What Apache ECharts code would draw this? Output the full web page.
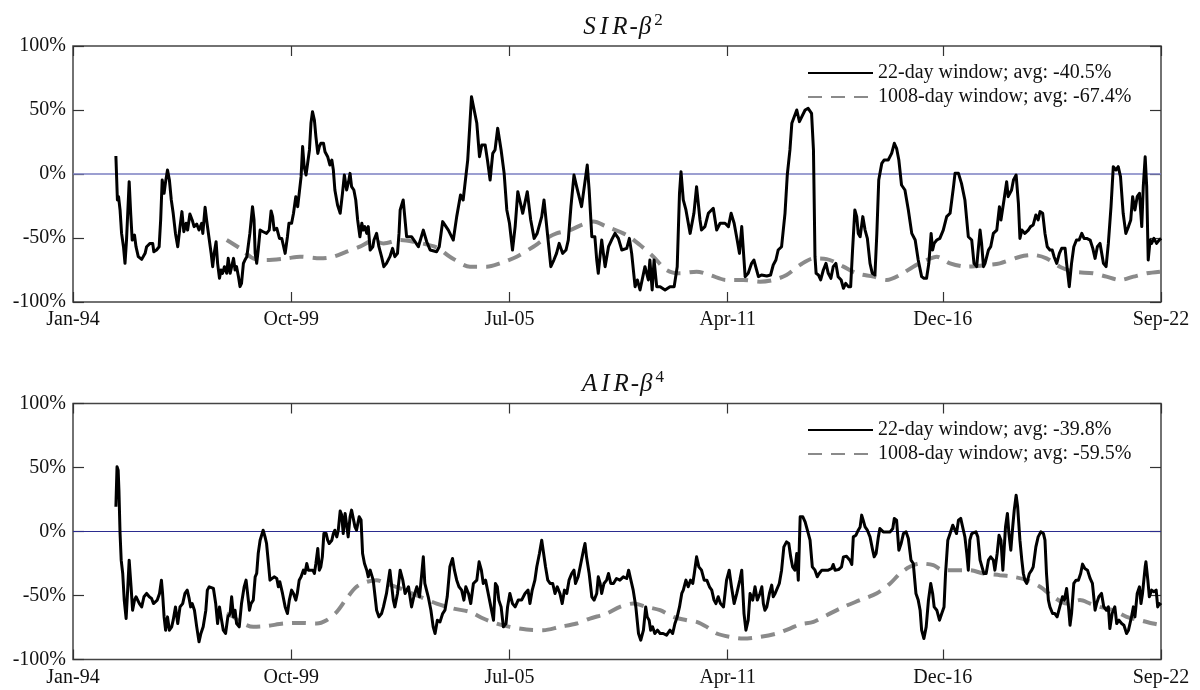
<!DOCTYPE html>
<html>
<head>
<meta charset="utf-8">
<script src="https://cdn.jsdelivr.net/npm/echarts@6/dist/echarts.min.js"></script>
<style>
html,body{margin:0;padding:0;background:#fff;}
#chart{width:1200px;height:690px;}
</style>
</head>
<body>
<div id="chart"></div>
<script>
// ---- data (x: decimal year, y: percent) ----
const tickDates = [1994, 1999.75, 2005.5, 2011.25, 2016.917, 2022.667];
const tickLabels = ['Jan-94', 'Oct-99', 'Jul-05', 'Apr-11', 'Dec-16', 'Sep-22'];
const yTicks = [-100, -50, 0, 50, 100];

const titleTop = {main1: 'SIR', sep: '-', main2: 'β', sup: '2'};
const titleBottom = {main1: 'AIR', sep: '-', main2: 'β', sup: '4'};

const sirNames = ['22-day window; avg: -40.5%', '1008-day window; avg: -67.4%'];
const airNames = ['22-day window; avg: -39.8%', '1008-day window; avg: -59.5%'];

const sir22 = [
[1995.13,14.1],[1995.17,-20.3],[1995.20,-17.7],[1995.24,-28.1],[1995.28,-46.4],[1995.33,-56.8],[1995.37,-69.8],[1995.41,-51.6],[1995.48,-6.0],[1995.52,-30.7],[1995.56,-51.6],[1995.62,-47.7],[1995.66,-56.8],[1995.72,-64.6],[1995.81,-66.7],[1995.90,-62.0],[1995.94,-56.8],[1996.03,-54.2],[1996.10,-54.2],[1996.13,-60.7],[1996.20,-59.4],[1996.27,-56.8],[1996.31,-35.9],[1996.35,-4.7],[1996.40,-15.1],[1996.44,-6.0],[1996.49,3.1],[1996.54,-4.7],[1996.59,-20.3],[1996.64,-30.7],[1996.70,-46.4],[1996.76,-56.8],[1996.82,-41.1],[1996.87,-29.4],[1996.92,-45.1],[1996.98,-38.5],[1997.02,-43.8],[1997.08,-31.3],[1997.14,-35.9],[1997.19,-41.1],[1997.26,-39.1],[1997.32,-43.8],[1997.39,-38.5],[1997.42,-46.4],[1997.48,-26.0],[1997.52,-35.9],[1997.58,-49.0],[1997.64,-62.0],[1997.68,-72.4],[1997.72,-62.0],[1997.77,-52.9],[1997.81,-69.8],[1997.86,-81.5],[1997.90,-75.0],[1997.94,-77.6],[1997.99,-72.4],[1998.05,-77.6],[1998.09,-65.9],[1998.14,-77.6],[1998.18,-72.4],[1998.23,-65.9],[1998.27,-75.0],[1998.31,-72.4],[1998.36,-80.2],[1998.40,-88.0],[1998.44,-85.4],[1998.49,-69.8],[1998.53,-67.2],[1998.58,-64.6],[1998.62,-65.9],[1998.66,-46.4],[1998.73,-25.5],[1998.77,-35.9],[1998.80,-62.0],[1998.84,-69.8],[1998.88,-59.4],[1998.93,-43.8],[1999.01,-45.1],[1999.10,-46.4],[1999.17,-43.8],[1999.22,-28.9],[1999.26,-33.3],[1999.30,-43.8],[1999.37,-42.4],[1999.44,-50.3],[1999.50,-50.3],[1999.54,-55.5],[1999.59,-62.0],[1999.65,-49.0],[1999.69,-38.5],[1999.76,-38.5],[1999.81,-30.7],[1999.87,-17.7],[1999.92,-25.5],[1999.96,-15.1],[2000.01,-2.1],[2000.05,21.4],[2000.09,5.7],[2000.14,-0.8],[2000.18,0.5],[2000.23,18.8],[2000.27,39.6],[2000.31,48.7],[2000.36,42.2],[2000.40,29.2],[2000.45,16.1],[2000.49,21.4],[2000.53,24.0],[2000.60,24.0],[2000.64,17.4],[2000.71,13.5],[2000.77,7.0],[2000.82,10.9],[2000.86,3.1],[2000.90,-12.5],[2000.97,-24.2],[2001.04,-30.7],[2001.10,-15.1],[2001.15,-0.8],[2001.21,-12.5],[2001.26,-6.0],[2001.30,0.5],[2001.34,-9.9],[2001.40,-12.5],[2001.45,-20.3],[2001.50,-35.9],[2001.56,-49.0],[2001.61,-38.5],[2001.65,-43.8],[2001.69,-41.1],[2001.74,-46.4],[2001.78,-41.1],[2001.83,-59.4],[2001.90,-56.8],[2001.93,-51.6],[2002.00,-46.4],[2002.06,-56.8],[2002.13,-64.6],[2002.19,-72.4],[2002.26,-69.8],[2002.35,-64.6],[2002.42,-58.1],[2002.48,-64.6],[2002.55,-62.0],[2002.59,-46.4],[2002.62,-28.1],[2002.70,-20.3],[2002.79,-49.0],[2002.92,-49.0],[2003.10,-56.8],[2003.23,-43.8],[2003.32,-52.9],[2003.41,-59.4],[2003.58,-60.7],[2003.65,-56.8],[2003.74,-37.2],[2003.89,-43.8],[2004.02,-51.6],[2004.11,-33.3],[2004.21,-16.4],[2004.28,-20.3],[2004.40,10.9],[2004.50,60.4],[2004.57,50.0],[2004.64,39.6],[2004.71,13.5],[2004.77,22.7],[2004.86,22.7],[2004.92,10.9],[2004.99,-4.7],[2005.06,16.1],[2005.12,18.8],[2005.19,35.7],[2005.28,18.8],[2005.36,0.5],[2005.43,-28.1],[2005.50,-38.5],[2005.58,-59.4],[2005.65,-41.1],[2005.72,-13.8],[2005.85,-30.7],[2005.97,-13.8],[2006.06,-35.9],[2006.15,-50.3],[2006.23,-46.4],[2006.35,-33.3],[2006.41,-20.3],[2006.59,-72.4],[2006.67,-67.2],[2006.74,-62.0],[2006.81,-54.2],[2006.90,-62.0],[2006.99,-59.4],[2007.05,-51.6],[2007.12,-25.5],[2007.20,-0.8],[2007.27,-9.9],[2007.40,-25.5],[2007.55,7.0],[2007.60,-12.5],[2007.67,-49.0],[2007.75,-49.0],[2007.80,-67.2],[2007.84,-77.6],[2007.93,-51.6],[2008.02,-72.4],[2008.11,-56.8],[2008.19,-51.6],[2008.28,-46.4],[2008.37,-50.3],[2008.46,-59.4],[2008.59,-58.1],[2008.66,-50.3],[2008.72,-62.0],[2008.81,-88.0],[2008.87,-82.8],[2008.94,-90.6],[2009.07,-72.4],[2009.16,-82.8],[2009.20,-67.2],[2009.26,-90.6],[2009.31,-67.2],[2009.38,-88.0],[2009.47,-88.0],[2009.60,-90.6],[2009.73,-88.0],[2009.84,-88.0],[2009.92,-72.4],[2009.98,-15.1],[2010.02,1.8],[2010.08,-20.3],[2010.15,-28.1],[2010.26,-46.4],[2010.36,-30.7],[2010.43,-9.9],[2010.52,-35.9],[2010.56,-43.8],[2010.65,-41.1],[2010.74,-30.7],[2010.87,-26.8],[2010.96,-43.8],[2011.05,-38.5],[2011.18,-38.5],[2011.27,-41.1],[2011.34,-30.7],[2011.42,-38.5],[2011.50,-51.6],[2011.56,-62.0],[2011.62,-41.1],[2011.71,-80.2],[2011.79,-77.6],[2011.88,-69.8],[2011.94,-67.2],[2012.06,-80.2],[2012.14,-78.9],[2012.28,-79.7],[2012.38,-78.9],[2012.45,-71.1],[2012.52,-67.2],[2012.58,-59.4],[2012.67,-56.8],[2012.76,-30.7],[2012.82,-0.8],[2012.89,18.8],[2012.94,39.6],[2012.98,40.9],[2013.07,50.0],[2013.14,40.9],[2013.29,50.0],[2013.37,51.3],[2013.46,47.4],[2013.51,18.8],[2013.55,-64.6],[2013.58,-77.6],[2013.64,-78.9],[2013.70,-82.8],[2013.77,-75.0],[2013.84,-69.8],[2013.90,-77.6],[2013.97,-81.5],[2014.03,-72.4],[2014.10,-69.8],[2014.16,-80.2],[2014.24,-82.8],[2014.30,-89.3],[2014.36,-85.4],[2014.43,-88.0],[2014.49,-88.0],[2014.54,-59.4],[2014.60,-28.1],[2014.65,-33.3],[2014.69,-46.4],[2014.74,-49.0],[2014.81,-33.3],[2014.87,-43.8],[2014.93,-50.3],[2015.00,-69.8],[2015.06,-77.6],[2015.13,-78.9],[2015.18,-46.4],[2015.23,-4.7],[2015.31,8.3],[2015.37,10.9],[2015.48,10.9],[2015.57,16.1],[2015.64,24.0],[2015.70,20.1],[2015.76,10.9],[2015.83,-8.6],[2015.92,-12.5],[2016.01,-28.1],[2016.10,-46.4],[2016.14,-46.4],[2016.19,-51.6],[2016.27,-67.2],[2016.36,-80.2],[2016.42,-81.5],[2016.49,-81.5],[2016.55,-69.8],[2016.61,-46.4],[2016.65,-59.4],[2016.69,-54.2],[2016.76,-51.6],[2016.84,-50.3],[2016.93,-43.8],[2017.02,-33.3],[2017.11,-30.7],[2017.20,-9.9],[2017.24,0.5],[2017.33,0.5],[2017.41,-7.3],[2017.50,-20.3],[2017.59,-49.0],[2017.68,-51.6],[2017.74,-69.8],[2017.81,-72.4],[2017.90,-43.8],[2017.94,-54.2],[2017.99,-72.4],[2018.03,-69.8],[2018.12,-59.4],[2018.18,-56.8],[2018.25,-46.4],[2018.34,-43.8],[2018.41,-25.5],[2018.45,-35.9],[2018.53,-20.3],[2018.60,-6.0],[2018.64,-17.7],[2018.73,-12.5],[2018.78,-4.7],[2018.85,-0.8],[2018.91,-23.0],[2018.95,-50.3],[2019.00,-43.8],[2019.08,-46.4],[2019.17,-43.8],[2019.23,-41.1],[2019.30,-39.8],[2019.37,-32.0],[2019.43,-35.9],[2019.48,-29.4],[2019.55,-30.7],[2019.61,-46.4],[2019.67,-56.8],[2019.74,-59.4],[2019.80,-59.4],[2019.85,-64.6],[2019.92,-69.8],[2019.99,-62.0],[2020.05,-58.1],[2020.14,-58.1],[2020.18,-69.8],[2020.25,-88.0],[2020.31,-69.8],[2020.37,-56.8],[2020.44,-51.6],[2020.51,-51.6],[2020.58,-46.4],[2020.64,-50.3],[2020.71,-50.3],[2020.80,-51.6],[2020.87,-58.1],[2020.93,-65.9],[2020.99,-56.8],[2021.06,-54.2],[2021.15,-69.8],[2021.22,-72.4],[2021.28,-54.2],[2021.35,-25.5],[2021.41,5.7],[2021.48,3.1],[2021.54,5.7],[2021.60,-2.1],[2021.67,-30.7],[2021.74,-46.4],[2021.81,-41.1],[2021.87,-35.9],[2021.92,-17.7],[2021.98,-28.1],[2022.04,-17.7],[2022.10,-15.1],[2022.16,-41.1],[2022.20,-9.9],[2022.25,13.5],[2022.29,-9.9],[2022.33,-67.2],[2022.38,-51.6],[2022.42,-54.2],[2022.48,-50.3],[2022.55,-54.2],[2022.62,-51.6],[2022.67,-50.3]
];

const sir1008 = [
[1998.05,-51.6],[1998.40,-58.1],[1998.75,-65.9],[1999.10,-67.2],[1999.63,-65.9],[1999.98,-64.6],[2000.51,-65.9],[2000.86,-64.6],[2001.21,-60.7],[2001.56,-56.8],[2001.91,-52.1],[2002.18,-54.2],[2002.62,-51.6],[2002.97,-52.9],[2003.58,-57.3],[2003.93,-64.6],[2004.46,-72.4],[2004.90,-72.4],[2005.25,-69.8],[2005.69,-64.6],[2006.13,-56.8],[2006.39,-51.6],[2006.74,-46.4],[2007.10,-43.8],[2007.40,-39.8],[2007.71,-37.2],[2008.06,-41.1],[2008.59,-47.7],[2008.94,-55.5],[2009.29,-64.6],[2009.64,-75.0],[2009.99,-77.6],[2010.43,-76.3],[2010.78,-78.9],[2011.22,-82.8],[2011.66,-82.8],[2012.10,-84.1],[2012.45,-82.8],[2012.80,-78.9],[2013.16,-71.0],[2013.51,-66.0],[2013.86,-66.5],[2014.30,-72.4],[2014.65,-77.6],[2015.09,-80.2],[2015.44,-82.8],[2015.79,-78.9],[2016.14,-72.4],[2016.49,-67.2],[2016.76,-64.6],[2017.11,-69.8],[2017.55,-72.4],[2018.07,-71.1],[2018.42,-69.8],[2018.95,-64.6],[2019.30,-63.3],[2019.65,-65.9],[2020.00,-72.4],[2020.36,-76.3],[2020.88,-77.6],[2021.23,-80.2],[2021.59,-82.8],[2021.94,-80.2],[2022.29,-77.6],[2022.64,-76.3]
];

const air22 = [
[1995.13,19.3],[1995.16,50.5],[1995.19,47.9],[1995.21,32.3],[1995.24,-1.6],[1995.27,-22.4],[1995.31,-32.8],[1995.35,-53.6],[1995.40,-68.0],[1995.44,-45.8],[1995.48,-22.4],[1995.53,-43.2],[1995.57,-61.5],[1995.62,-53.6],[1995.66,-51.0],[1995.70,-51.0],[1995.75,-56.3],[1995.81,-58.9],[1995.87,-51.0],[1995.94,-48.4],[1996.01,-51.0],[1996.07,-52.3],[1996.12,-56.3],[1996.16,-56.3],[1996.22,-53.6],[1996.28,-48.4],[1996.33,-38.0],[1996.36,-48.4],[1996.40,-66.7],[1996.44,-77.1],[1996.49,-66.7],[1996.54,-77.1],[1996.60,-74.5],[1996.64,-69.3],[1996.70,-58.9],[1996.76,-71.9],[1996.82,-58.9],[1996.89,-56.3],[1996.95,-48.4],[1997.01,-45.8],[1997.06,-52.3],[1997.10,-58.9],[1997.14,-56.3],[1997.20,-61.5],[1997.26,-74.5],[1997.32,-86.2],[1997.37,-79.7],[1997.43,-74.5],[1997.50,-61.5],[1997.54,-45.8],[1997.59,-43.2],[1997.70,-44.5],[1997.76,-56.3],[1997.81,-71.9],[1997.86,-58.9],[1997.90,-66.7],[1997.96,-77.1],[1998.02,-79.7],[1998.08,-66.7],[1998.14,-64.1],[1998.18,-51.0],[1998.23,-66.7],[1998.27,-61.5],[1998.31,-71.9],[1998.38,-74.5],[1998.44,-56.3],[1998.51,-43.2],[1998.56,-38.0],[1998.60,-48.4],[1998.65,-61.5],[1998.69,-56.3],[1998.75,-53.6],[1998.80,-35.4],[1998.84,-32.8],[1998.88,-17.2],[1998.93,-6.8],[1998.97,-2.9],[1999.01,1.0],[1999.06,-4.2],[1999.10,-9.4],[1999.15,-25.0],[1999.19,-38.0],[1999.24,-39.3],[1999.30,-35.4],[1999.37,-36.7],[1999.41,-43.2],[1999.45,-39.3],[1999.52,-48.4],[1999.59,-58.9],[1999.65,-64.1],[1999.70,-53.6],[1999.76,-45.8],[1999.81,-48.4],[1999.87,-53.6],[1999.91,-48.4],[1999.96,-38.0],[2000.01,-35.4],[2000.07,-30.2],[2000.11,-32.8],[2000.16,-25.0],[2000.20,-30.2],[2000.26,-30.2],[2000.32,-30.2],[2000.36,-32.8],[2000.40,-25.0],[2000.45,-13.3],[2000.49,-30.2],[2000.53,-27.6],[2000.57,-19.8],[2000.61,-1.6],[2000.67,-1.6],[2000.71,-6.8],[2000.75,-9.4],[2000.82,-6.8],[2000.86,-1.6],[2000.90,1.0],[2000.95,-4.2],[2000.99,1.0],[2001.04,16.1],[2001.08,12.8],[2001.12,-1.6],[2001.17,14.1],[2001.21,14.1],[2001.25,-4.2],[2001.30,11.5],[2001.34,16.7],[2001.39,18.0],[2001.43,3.6],[2001.47,1.0],[2001.54,11.5],[2001.59,8.9],[2001.63,-17.2],[2001.68,-25.0],[2001.74,-30.2],[2001.78,-35.4],[2001.83,-30.2],[2001.87,-30.2],[2001.91,-38.0],[2001.96,-51.0],[2002.00,-61.5],[2002.06,-66.7],[2002.13,-64.1],[2002.18,-58.9],[2002.26,-48.4],[2002.31,-48.4],[2002.35,-30.2],[2002.40,-30.2],[2002.44,-53.6],[2002.48,-58.9],[2002.55,-48.4],[2002.62,-30.2],[2002.69,-38.0],[2002.75,-48.4],[2002.84,-43.2],[2002.92,-58.9],[2002.98,-51.0],[2003.06,-43.2],[2003.13,-51.0],[2003.19,-32.8],[2003.23,-19.8],[2003.27,-40.6],[2003.36,-51.0],[2003.43,-61.5],[2003.49,-74.5],[2003.54,-79.7],[2003.60,-69.3],[2003.67,-70.6],[2003.74,-64.1],[2003.80,-61.5],[2003.86,-51.0],[2003.93,-27.6],[2004.00,-21.1],[2004.05,-30.2],[2004.11,-38.0],[2004.17,-43.2],[2004.24,-45.8],[2004.30,-53.6],[2004.35,-43.2],[2004.42,-48.4],[2004.48,-56.3],[2004.55,-40.6],[2004.64,-38.0],[2004.70,-23.7],[2004.76,-30.2],[2004.81,-40.6],[2004.87,-38.0],[2004.94,-48.4],[2005.01,-58.9],[2005.08,-69.3],[2005.13,-40.6],[2005.18,-43.2],[2005.22,-53.6],[2005.28,-58.9],[2005.34,-74.5],[2005.41,-71.9],[2005.45,-58.9],[2005.51,-48.4],[2005.58,-56.3],[2005.65,-58.9],[2005.73,-53.6],[2005.82,-53.6],[2005.91,-48.4],[2005.99,-45.8],[2006.04,-56.3],[2006.10,-45.8],[2006.17,-38.0],[2006.22,-27.6],[2006.29,-17.2],[2006.35,-6.8],[2006.39,-6.8],[2006.45,-27.6],[2006.51,-38.0],[2006.57,-40.6],[2006.64,-40.6],[2006.70,-48.4],[2006.76,-43.2],[2006.83,-48.4],[2006.89,-56.3],[2006.95,-45.8],[2007.01,-48.4],[2007.07,-38.0],[2007.14,-32.8],[2007.20,-30.2],[2007.24,-40.6],[2007.31,-35.4],[2007.38,-25.0],[2007.45,-14.6],[2007.49,-9.4],[2007.53,-19.8],[2007.60,-32.8],[2007.67,-51.0],[2007.73,-53.6],[2007.80,-48.4],[2007.84,-35.4],[2007.89,-40.6],[2007.93,-48.4],[2007.99,-40.6],[2008.06,-38.0],[2008.11,-32.8],[2008.17,-40.6],[2008.24,-40.6],[2008.32,-36.7],[2008.41,-38.0],[2008.50,-35.4],[2008.59,-36.7],[2008.64,-30.2],[2008.69,-36.7],[2008.76,-45.8],[2008.83,-58.9],[2008.90,-79.7],[2008.96,-84.9],[2009.03,-77.1],[2009.09,-58.9],[2009.13,-66.7],[2009.18,-69.3],[2009.22,-77.1],[2009.27,-74.5],[2009.33,-79.7],[2009.40,-77.1],[2009.47,-79.7],[2009.55,-79.7],[2009.64,-81.0],[2009.73,-77.1],[2009.80,-79.7],[2009.86,-71.9],[2009.92,-66.7],[2009.98,-58.9],[2010.04,-48.4],[2010.08,-45.8],[2010.15,-38.0],[2010.21,-43.2],[2010.27,-38.0],[2010.33,-40.6],[2010.37,-32.8],[2010.43,-19.8],[2010.49,-27.6],[2010.56,-30.2],[2010.63,-38.0],[2010.70,-38.0],[2010.77,-43.2],[2010.83,-45.8],[2010.89,-53.6],[2010.94,-56.3],[2011.00,-51.0],[2011.06,-56.3],[2011.14,-58.9],[2011.22,-38.0],[2011.29,-30.2],[2011.35,-43.2],[2011.42,-56.3],[2011.49,-48.4],[2011.57,-38.0],[2011.62,-30.2],[2011.68,-64.1],[2011.73,-77.1],[2011.79,-69.3],[2011.84,-48.4],[2011.91,-53.6],[2011.97,-43.2],[2012.03,-53.6],[2012.10,-48.4],[2012.15,-43.2],[2012.19,-56.3],[2012.23,-61.5],[2012.28,-58.9],[2012.35,-48.4],[2012.41,-41.9],[2012.45,-51.0],[2012.50,-48.4],[2012.54,-48.4],[2012.61,-40.6],[2012.67,-30.2],[2012.73,-12.0],[2012.80,-8.1],[2012.86,-9.4],[2012.91,-19.8],[2012.96,-27.6],[2013.02,-30.2],[2013.07,-17.2],[2013.11,-38.0],[2013.16,11.5],[2013.23,11.5],[2013.29,7.6],[2013.35,1.0],[2013.42,-6.8],[2013.48,-27.6],[2013.55,-30.2],[2013.61,-35.4],[2013.66,-32.8],[2013.73,-30.2],[2013.81,-30.2],[2013.90,-30.2],[2013.99,-28.9],[2014.03,-25.8],[2014.08,-30.2],[2014.17,-29.7],[2014.25,-27.6],[2014.30,-19.8],[2014.38,-19.3],[2014.47,-22.4],[2014.52,-25.8],[2014.56,-4.2],[2014.63,-2.9],[2014.69,1.0],[2014.74,3.6],[2014.78,12.8],[2014.82,8.9],[2014.87,3.6],[2014.93,1.0],[2015.00,-4.2],[2015.07,-14.6],[2015.11,-19.8],[2015.16,-17.2],[2015.22,-4.2],[2015.26,2.3],[2015.35,-0.3],[2015.44,-0.3],[2015.53,-0.3],[2015.60,2.3],[2015.64,10.2],[2015.70,8.9],[2015.76,-14.6],[2015.82,-9.4],[2015.88,-1.6],[2015.95,-0.3],[2016.01,-5.5],[2016.08,-22.4],[2016.14,-25.0],[2016.21,-48.4],[2016.27,-53.6],[2016.32,-61.5],[2016.36,-77.1],[2016.42,-83.6],[2016.48,-74.5],[2016.54,-53.6],[2016.60,-40.6],[2016.65,-48.4],[2016.69,-58.9],[2016.76,-61.5],[2016.83,-69.3],[2016.89,-64.1],[2016.95,-58.9],[2016.99,-32.8],[2017.05,-6.8],[2017.11,-1.6],[2017.18,4.9],[2017.22,3.6],[2017.28,-1.6],[2017.33,8.9],[2017.39,10.2],[2017.46,1.0],[2017.50,-4.2],[2017.55,-17.2],[2017.59,-30.2],[2017.63,-6.8],[2017.68,-1.6],[2017.72,-0.3],[2017.79,-0.3],[2017.84,-4.2],[2017.90,-22.4],[2017.94,-22.4],[2018.00,-32.8],[2018.06,-32.8],[2018.12,-22.4],[2018.18,-19.8],[2018.25,-22.4],[2018.29,-30.2],[2018.35,-17.2],[2018.40,-2.9],[2018.45,-6.8],[2018.50,-30.2],[2018.53,-30.2],[2018.57,3.6],[2018.62,14.1],[2018.66,-1.6],[2018.71,-14.6],[2018.76,3.6],[2018.80,16.7],[2018.85,28.4],[2018.89,19.3],[2018.95,-6.8],[2019.00,-22.4],[2019.04,-32.8],[2019.08,-38.0],[2019.13,-40.6],[2019.20,-32.8],[2019.26,-30.2],[2019.30,-27.6],[2019.37,-12.0],[2019.43,-4.2],[2019.50,-0.3],[2019.57,-1.6],[2019.61,-6.8],[2019.65,-32.8],[2019.70,-53.6],[2019.74,-58.9],[2019.81,-64.1],[2019.87,-64.1],[2019.93,-66.7],[2020.00,-58.9],[2020.07,-51.0],[2020.12,-53.6],[2020.18,-44.5],[2020.23,-58.9],[2020.27,-73.2],[2020.31,-64.1],[2020.37,-40.6],[2020.43,-38.0],[2020.49,-38.0],[2020.55,-32.8],[2020.60,-25.5],[2020.66,-28.9],[2020.73,-30.2],[2020.80,-36.7],[2020.86,-40.6],[2020.93,-61.5],[2020.97,-56.3],[2021.03,-51.0],[2021.10,-48.4],[2021.16,-58.9],[2021.23,-61.5],[2021.28,-58.9],[2021.32,-75.8],[2021.38,-64.1],[2021.45,-58.9],[2021.50,-71.9],[2021.56,-69.3],[2021.63,-71.9],[2021.69,-73.2],[2021.76,-79.7],[2021.81,-77.1],[2021.85,-71.9],[2021.89,-66.7],[2021.94,-58.9],[2021.98,-66.7],[2022.04,-48.4],[2022.10,-43.2],[2022.14,-56.3],[2022.18,-48.4],[2022.25,-27.6],[2022.27,-23.7],[2022.32,-38.0],[2022.36,-51.0],[2022.42,-45.8],[2022.48,-47.1],[2022.54,-45.8],[2022.58,-58.9],[2022.62,-56.3],[2022.67,-57.6]
];

const air1008 = [
[1998.05,-64.1],[1998.23,-66.7],[1998.40,-70.6],[1998.75,-74.5],[1999.10,-73.9],[1999.54,-71.9],[1999.98,-71.4],[2000.42,-71.9],[2000.68,-69.3],[2000.95,-62.8],[2001.21,-52.3],[2001.47,-43.2],[2001.74,-39.3],[2002.00,-38.0],[2002.26,-40.6],[2002.62,-44.5],[2003.14,-51.0],[2003.58,-56.3],[2004.02,-60.2],[2004.46,-62.8],[2004.81,-68.0],[2005.16,-71.9],[2005.51,-74.5],[2005.95,-76.6],[2006.39,-77.1],[2006.83,-74.5],[2007.27,-71.9],[2007.62,-68.0],[2008.06,-64.1],[2008.41,-58.9],[2008.76,-56.3],[2009.11,-58.9],[2009.47,-61.5],[2009.82,-66.7],[2010.17,-69.3],[2010.43,-70.6],[2010.70,-74.5],[2010.96,-79.7],[2011.31,-82.3],[2011.66,-83.6],[2012.10,-82.3],[2012.54,-79.7],[2012.89,-75.8],[2013.16,-72.5],[2013.51,-70.6],[2013.86,-65.4],[2014.30,-58.9],[2014.74,-53.6],[2015.17,-48.4],[2015.53,-40.6],[2015.79,-32.8],[2016.05,-27.6],[2016.32,-25.0],[2016.67,-26.3],[2016.93,-30.2],[2017.28,-30.2],[2017.63,-30.2],[2017.99,-32.8],[2018.42,-34.1],[2018.78,-35.4],[2019.13,-38.0],[2019.48,-43.2],[2019.83,-51.0],[2020.18,-56.3],[2020.53,-53.6],[2020.80,-56.3],[2021.06,-58.9],[2021.41,-61.5],[2021.76,-66.7],[2022.11,-69.3],[2022.46,-71.9],[2022.67,-73.2]
];

// ---- styling helpers ----
const SERIF = 'Liberation Serif';
const xMin = tickDates[0], xMax = tickDates[tickDates.length - 1];
const grids = [
  {left: 73, width: 1088, top: 46, height: 256},
  {left: 73, width: 1088, top: 403.5, height: 256}
];
const zeroColors = ['#7b7fc2', '#2b2c8f'];
const zeroWidths = [1.6, 1.0];

function fmtX(v) {
  for (let i = 0; i < tickDates.length; i++) {
    if (Math.abs(tickDates[i] - v) < 0.02) return tickLabels[i];
  }
  return '';
}

const tickStyle = {color: '#333', width: 1.2};
const xAxes = [], yAxes = [];
grids.forEach((g, gi) => {
  xAxes.push({
    type: 'value', gridIndex: gi, min: xMin, max: xMax, position: 'bottom',
    axisLine: {show: false, onZero: false},
    splitLine: {show: false},
    axisTick: {show: true, inside: true, length: 10, customValues: tickDates, lineStyle: tickStyle},
    axisLabel: {show: true, customValues: tickDates, formatter: fmtX, margin: 8,
      fontFamily: SERIF, fontSize: 20, color: '#111'}
  });
  xAxes.push({
    type: 'value', gridIndex: gi, min: xMin, max: xMax, position: 'top',
    axisLine: {show: false, onZero: false}, splitLine: {show: false},
    axisTick: {show: true, inside: true, length: 10, customValues: tickDates, lineStyle: tickStyle},
    axisLabel: {show: false}
  });
  yAxes.push({
    type: 'value', gridIndex: gi, min: -100, max: 100, interval: 50, position: 'left',
    axisLine: {show: false, onZero: false}, splitLine: {show: false},
    axisTick: {show: true, inside: true, length: 11, lineStyle: tickStyle},
    axisLabel: {show: true, margin: 7, formatter: '{value}%', fontFamily: SERIF, fontSize: 20, color: '#111'}
  });
  yAxes.push({
    type: 'value', gridIndex: gi, min: -100, max: 100, interval: 50, position: 'right',
    axisLine: {show: false, onZero: false}, splitLine: {show: false},
    axisTick: {show: true, inside: true, length: 11, lineStyle: tickStyle},
    axisLabel: {show: false}
  });
});

function zeroSeries(gi) {
  return {
    type: 'line', name: 'zero' + gi, xAxisIndex: gi * 2, yAxisIndex: gi * 2,
    data: [[xMin, 0], [xMax, 0]], symbol: 'none', silent: true, z: 1,
    lineStyle: {color: zeroColors[gi], width: zeroWidths[gi]}, itemStyle: {color: zeroColors[gi]}
  };
}
function shortSeries(gi, name, data) {
  return {
    type: 'line', name: name, xAxisIndex: gi * 2, yAxisIndex: gi * 2, data: data,
    symbol: 'none', showSymbol: false, z: 3,
    lineStyle: {color: '#000', width: 3, join: 'round'}, itemStyle: {color: '#000'}
  };
}
function longSeries(gi, name, data) {
  return {
    type: 'line', name: name, xAxisIndex: gi * 2, yAxisIndex: gi * 2, data: data,
    symbol: 'none', showSymbol: false, smooth: 0.3, z: 2,
    lineStyle: {color: '#8a8a8a', width: 4, type: [14, 9]}, itemStyle: {color: '#8a8a8a'}
  };
}

// math-italic style title: letters spaced like a typeset formula
function makeTitle(t, top) {
  const base = {fontFamily: SERIF, fontWeight: 'normal', color: '#111', lineHeight: 30};
  const letters = t.main1.split('').map(ch => '{i|' + ch + '}').join('');
  return {
    text: letters + '{n|' + t.sep + '}{b|' + t.main2 + '}{s|' + t.sup + '}',
    left: 617, top: top, textAlign: 'center',
    textStyle: {
      fontWeight: 'normal', fontFamily: SERIF,
      rich: {
        i: Object.assign({fontStyle: 'italic', fontSize: 25, padding: [0, 2, 0, 2]}, base),
        b: Object.assign({fontStyle: 'italic', fontSize: 25, padding: [0, 1, 0, 1]}, base),
        n: Object.assign({fontSize: 25}, base),
        s: Object.assign({fontSize: 17, verticalAlign: 'top', padding: [0, 0, 0, 2]}, base)
      }
    }
  };
}

function makeLegend(names, top) {
  return {
    data: names, left: 807, top: top, orient: 'vertical', padding: 0,
    itemWidth: 65, itemHeight: 14, itemGap: 4, selectedMode: false,
    itemStyle: {opacity: 0, color: 'transparent', borderWidth: 0},
    textStyle: {fontFamily: SERIF, fontSize: 20, color: '#111', lineHeight: 20, padding: [0, 0, 0, 0]}
  };
}

const option = {
  animation: false,
  backgroundColor: '#fff',
  title: [makeTitle(titleTop, 7), makeTitle(titleBottom, 364)],
  legend: [makeLegend(sirNames, 63), makeLegend(airNames, 420)],
  grid: grids.map(g => Object.assign({show: true, borderColor: '#444', borderWidth: 1.5, backgroundColor: 'transparent'}, g)),
  xAxis: xAxes,
  yAxis: yAxes,
  series: [
    zeroSeries(0),
    longSeries(0, sirNames[1], sir1008),
    shortSeries(0, sirNames[0], sir22),
    zeroSeries(1),
    longSeries(1, airNames[1], air1008),
    shortSeries(1, airNames[0], air22)
  ]
};

const chart = echarts.init(document.getElementById('chart'), null, {renderer: 'canvas'});
chart.setOption(option);
</script>
</body>
</html>
